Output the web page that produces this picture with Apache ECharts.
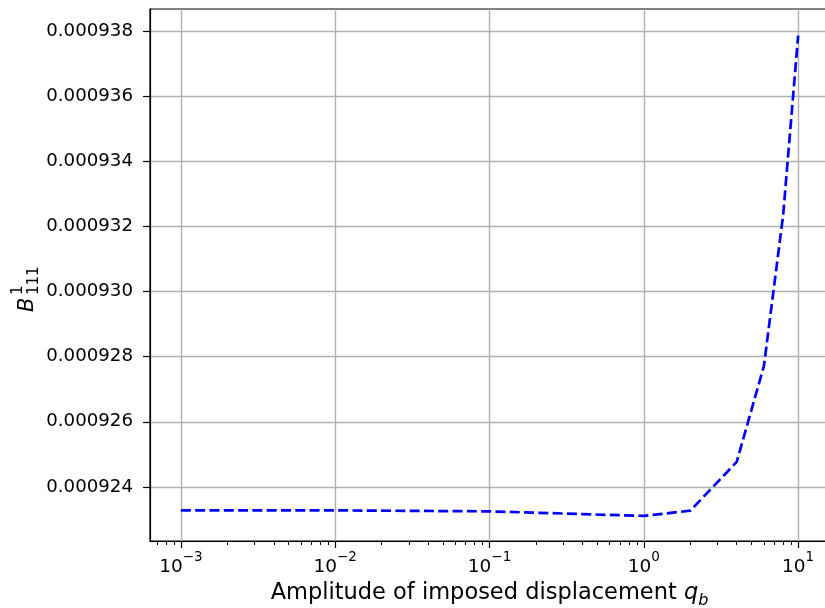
<!DOCTYPE html>
<html>
<head>
<meta charset="utf-8">
<script src="https://cdn.jsdelivr.net/npm/echarts@6/dist/echarts.min.js"></script>
<style>html,body{margin:0;padding:0;background:#fff}#c{width:825px;height:608px}</style>
</head>
<body>
<div id="c"></div>
<script>
// data
const qb = [0.001, 0.01, 0.1, 1, 2, 4, 6, 8, 10];
const B111 = [0.00092328, 0.00092328, 0.00092325, 0.00092311, 0.00092327, 0.00092477, 0.00092771, 0.00093235, 0.00093785];
const xMajorTicks = [0.001, 0.01, 0.1, 1, 10];
const xMinorTicks = [0.0007, 0.0008, 0.0009,
  0.002,0.003,0.004,0.005,0.006,0.007,0.008,0.009,
  0.02,0.03,0.04,0.05,0.06,0.07,0.08,0.09,
  0.2,0.3,0.4,0.5,0.6,0.7,0.8,0.9,
  2,3,4,5,6,7,8,9];
const yTicks = [0.000924, 0.000926, 0.000928, 0.00093, 0.000932, 0.000934, 0.000936, 0.000938];

const FONT = 'DejaVu Sans';
const xMin = Math.pow(10, -3.2), xMax = Math.pow(10, 1.2);
const yMin = 0.00092234, yMax = 0.00093867;

const chart = echarts.init(document.getElementById('c'), null, {renderer: 'canvas'});
chart.setOption({
  animation: false,
  backgroundColor: '#fff',
  textStyle: {fontFamily: FONT},
  grid: {left: 150, right: -4, top: 9, bottom: 67, containLabel: false, outerBoundsMode: 'none',
    show: true, borderColor: '#000', borderWidth: 1.2, backgroundColor: 'transparent'},
  xAxis: [{
    type: 'log', logBase: 10, min: xMin, max: xMax,
    axisLine: {show: true, onZero: false, lineStyle: {color: '#000', width: 1.2}},
    axisTick: {show: true, length: 7, inside: false, customValues: xMajorTicks, lineStyle: {color: '#000', width: 1.2}},
    splitLine: {show: true, lineStyle: {color: '#b0b0b0', width: 1.4}},
    axisLabel: {
      customValues: xMajorTicks, margin: 9, color: '#000',
      formatter: function (v) {
        const e = Math.round(Math.log10(v));
        return '{b|10}{s|' + String(e).replace('-', '\u2212') + '}';
      },
      rich: {
        b: {fontSize: 18.5, fontFamily: FONT, color: '#000', verticalAlign: 'bottom', lineHeight: 27},
        s: {fontSize: 13.5, fontFamily: FONT, color: '#000', verticalAlign: 'top', lineHeight: 27}
      }
    },
    name: '{t|Amplitude of imposed displacement }{q|q}{sub|b}',
    nameLocation: 'middle', nameGap: 37,
    nameTextStyle: {
      rich: {
        t: {fontSize: 22.5, fontFamily: FONT, color: '#000', verticalAlign: 'middle', lineHeight: 30},
        q: {fontSize: 22.5, fontFamily: FONT, fontStyle: 'italic', color: '#000', verticalAlign: 'middle', lineHeight: 30},
        sub: {fontSize: 16, fontFamily: FONT, fontStyle: 'italic', color: '#000', verticalAlign: 'bottom', lineHeight: 30}
      }
    }
  }, {
    type: 'log', logBase: 10, min: xMin, max: xMax, position: 'bottom', gridIndex: 0,
    axisLine: {show: false},
    axisTick: {show: true, length: 4, customValues: xMinorTicks, lineStyle: {color: '#000', width: 1}},
    axisLabel: {show: false},
    splitLine: {show: false}
  }],
  yAxis: [{
    type: 'value', min: yMin, max: yMax,
    axisLine: {show: true, onZero: false, lineStyle: {color: '#000', width: 1.2}},
    axisTick: {show: true, length: 7, customValues: yTicks, lineStyle: {color: '#000', width: 1.2}},
    splitLine: {show: true, lineStyle: {color: '#b0b0b0', width: 1.4}},
    axisLabel: {
      customValues: yTicks, margin: 17, color: '#000', fontSize: 18.2, fontFamily: FONT,
      formatter: function (v) { return v.toFixed(6); }
    }
  }],
  graphic: [{
    type: 'group', x: 28, y: 312, rotation: Math.PI / 2,
    children: [
      {type: 'text', x: 0, y: 0, style: {text: 'B', font: 'italic 21px "DejaVu Sans"', fill: '#000', textAlign: 'left', textVerticalAlign: 'middle'}},
      {type: 'text', x: 17, y: -10, style: {text: '1', font: '15px "DejaVu Sans"', fill: '#000', textAlign: 'left', textVerticalAlign: 'middle'}},
      {type: 'text', x: 17, y: 6, style: {text: '111', font: '15px "DejaVu Sans"', fill: '#000', textAlign: 'left', textVerticalAlign: 'middle'}}
    ]
  }],
  series: [{
    type: 'line', xAxisIndex: 0, yAxisIndex: 0,
    data: qb.map((x, i) => [x, B111[i]]),
    showSymbol: false, symbol: 'none',
    lineStyle: {color: '#0000ff', width: 2.7, type: [10, 4.3]},
    clip: true
  }]
});
</script>
</body>
</html>
